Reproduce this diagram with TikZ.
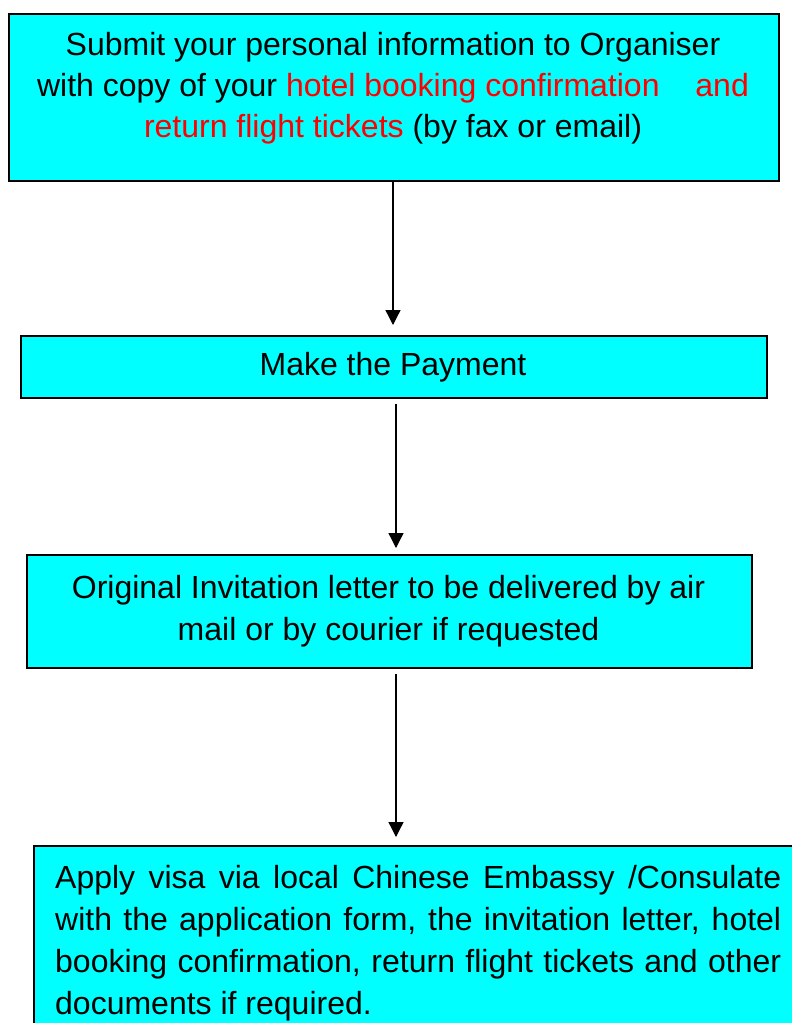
\documentclass[tikz,border=0pt]{standalone}
\usepackage{fontspec}
\setmainfont{Liberation Sans}
\usetikzlibrary{arrows.meta}
\definecolor{boxcyan}{HTML}{00FFFF}
\definecolor{txtred}{HTML}{FF0000}
\begin{document}
\begin{tikzpicture}[x=1pt,y=-1pt,
  box/.style={draw=black, line width=1.6pt, fill=boxcyan, rectangle, anchor=north west, inner sep=0pt},
  lbl/.style={inner sep=0pt, font=\fontsize{32}{41}\selectfont},
  arr/.style={line width=1.3pt, -{Triangle[width=15pt,length=15pt]}}]
\clip (0,0) rectangle (792,1023);
\node[box, minimum width=770pt, minimum height=167pt] (b1) at (8,13) {};
\node[box, minimum width=746pt, minimum height=62pt] (b2) at (20,335) {};
\node[box, minimum width=725pt, minimum height=113pt] (b3) at (26,554) {};
\node[box, minimum width=790pt, minimum height=200pt] (b4) at (33,845) {};
\node[lbl, anchor=base] (t1) at (393,55) {\parbox[t]{780pt}{\centering\fontsize{32}{41}\selectfont
Submit your personal information to Organiser\\
with copy of your \textcolor{txtred}{hotel booking confirmation\hspace{27pt} and}\\
\textcolor{txtred}{return flight tickets} (by fax or email)}};
\node[lbl, anchor=base] (t2) at (393,375) {Make the Payment};
\node[lbl, anchor=base] (t3) at (388.5,598) {\parbox[t]{740pt}{\centering\fontsize{32}{42}\selectfont
Original Invitation letter to be delivered by air\\
mail or by courier if requested}};
\node[lbl, anchor=base west] (t4) at (55,888) {\parbox[t]{726pt}{\fontsize{32}{42}\selectfont
Apply visa via local Chinese Embassy /Consulate\linebreak
with the application form, the invitation letter, hotel\linebreak
booking confirmation, return flight tickets and other\linebreak
documents if required.}};
\coordinate (ax1) at (393,0);
\coordinate (ax2) at (396,0);
\draw[arr, shorten >=10pt] (b1.south -| ax1) -- (b2.north -| ax1);
\draw[arr, shorten <=5pt, shorten >=6pt] (b2.south -| ax2) -- (b3.north -| ax2);
\draw[arr, shorten <=5pt, shorten >=8pt] (b3.south -| ax2) -- (b4.north -| ax2);
\end{tikzpicture}
\end{document}
